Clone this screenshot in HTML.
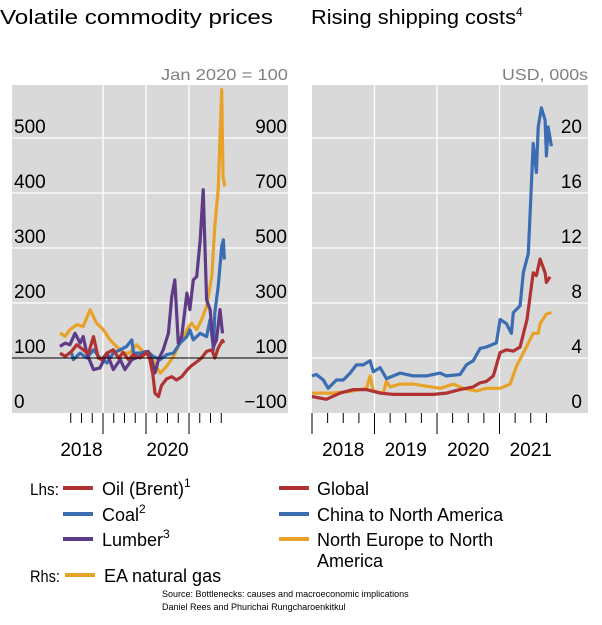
<!DOCTYPE html>
<html><head><meta charset="utf-8"><style>
body{margin:0;background:#fff;width:602px;height:620px;overflow:hidden;font-family:"Liberation Sans",sans-serif}
svg text{font-family:"Liberation Sans",sans-serif}
</style></head><body>
<svg id="c" width="602" height="620">
<text x="0" y="24" font-size="20" fill="#000" textLength="273" lengthAdjust="spacingAndGlyphs">Volatile commodity prices</text>
<text x="311" y="24" font-size="20" fill="#000"><tspan textLength="205" lengthAdjust="spacingAndGlyphs">Rising shipping costs</tspan><tspan font-size="12" dy="-8">4</tspan></text>
<text x="288" y="80" font-size="16" fill="#7f7f7f" text-anchor="end" textLength="127" lengthAdjust="spacingAndGlyphs">Jan 2020 = 100</text>
<text x="588" y="80" font-size="16" fill="#7f7f7f" text-anchor="end" textLength="86" lengthAdjust="spacingAndGlyphs">USD, 000s</text>
<rect x="12" y="85" width="276" height="328" fill="#d9d9d9"/>
<rect x="312" y="85" width="276" height="328" fill="#d9d9d9"/>
<g id="L"></g><g id="R"></g>
<g font-size="18">
<text x="30" y="495" font-size="17" textLength="29" lengthAdjust="spacingAndGlyphs">Lhs:</text>
<rect x="63" y="486" width="30" height="4" fill="#b03232"/>
<text x="102" y="495">Oil (Brent)<tspan font-size="12" dy="-8">1</tspan></text>
<rect x="63" y="512" width="30" height="4" fill="#3b6db2"/>
<text x="102" y="521">Coal<tspan font-size="12" dy="-8">2</tspan></text>
<rect x="63" y="537" width="30" height="4" fill="#5e3a87"/>
<text x="102" y="546">Lumber<tspan font-size="12" dy="-8">3</tspan></text>
<text x="30" y="582" font-size="17" textLength="30" lengthAdjust="spacingAndGlyphs">Rhs:</text>
<rect x="65" y="573" width="30" height="4" fill="#e9a228"/>
<text x="104" y="582">EA natural gas</text>
<rect x="279" y="486" width="30" height="4" fill="#b03232"/>
<text x="317" y="495">Global</text>
<rect x="279" y="512" width="30" height="4" fill="#3b6db2"/>
<text x="317" y="521">China to North America</text>
<rect x="279" y="537" width="30" height="4" fill="#e9a228"/>
<text x="317" y="546">North Europe to North</text>
<text x="317" y="567">America</text>
</g>
<text x="162" y="597" font-size="9">Source: Bottlenecks: causes and macroeconomic implications</text>
<text x="162" y="610" font-size="9">Daniel Rees and Phurichai Rungcharoenkitkul</text>
</svg>
<script>
// Left panel data (decimal years; Lhs values index, Rhs gas index)
const oilT=[2018.00,2018.12,2018.27,2018.39,2018.54,2018.66,2018.78,2018.89,2018.97,2019.09,2019.24,2019.36,2019.47,2019.59,2019.71,2019.86,2020.02,2020.09,2020.16,2020.21,2020.29,2020.36,2020.48,2020.60,2020.71,2020.83,2020.95,2021.06,2021.18,2021.29,2021.41,2021.53,2021.60,2021.68,2021.78,2021.81];
const oilV=[109,103,112,124,115,108,139,100,97,109,115,100,110,97,106,100,110,97,70,36,30,50,62,66,60,66,78,86,93,100,112,115,100,118,132,127];
const coalT=[2018.27,2018.31,2018.47,2018.62,2018.78,2018.93,2019.09,2019.24,2019.40,2019.55,2019.67,2019.71,2019.86,2020.02,2020.17,2020.33,2020.48,2020.64,2020.79,2020.95,2021.02,2021.10,2021.26,2021.41,2021.49,2021.57,2021.60,2021.68,2021.72,2021.76,2021.80,2021.82];
const coalV=[109,97,109,100,115,100,91,109,115,121,133,109,109,112,103,97,106,109,127,139,151,133,145,139,170,115,182,230,267,303,315,279];
const lumT=[2018.00,2018.12,2018.23,2018.35,2018.47,2018.54,2018.62,2018.78,2018.93,2019.09,2019.24,2019.40,2019.51,2019.67,2019.86,2020.05,2020.13,2020.21,2020.29,2020.40,2020.52,2020.60,2020.67,2020.75,2020.83,2020.95,2021.02,2021.10,2021.18,2021.26,2021.33,2021.41,2021.49,2021.57,2021.64,2021.72,2021.78];
const lumV=[121,127,124,145,127,139,109,79,82,109,79,97,79,97,103,112,97,73,97,115,145,212,242,127,139,218,188,242,248,315,406,206,188,121,133,188,145];
const gasT=[2018.00,2018.12,2018.23,2018.39,2018.54,2018.70,2018.85,2019.01,2019.16,2019.31,2019.47,2019.62,2019.78,2019.93,2020.09,2020.24,2020.33,2020.48,2020.64,2020.79,2020.95,2021.06,2021.18,2021.29,2021.41,2021.53,2021.60,2021.68,2021.72,2021.76,2021.79,2021.83];
const gasV=[191,179,203,221,215,276,227,203,167,142,118,118,148,124,118,70,45,70,106,155,203,227,203,239,288,397,579,712,900,1076,761,724];
// Right panel data (USD 000s)
const glT=[2018.00,2018.23,2018.45,2018.66,2018.87,2019.09,2019.30,2019.51,2019.73,2019.94,2020.15,2020.37,2020.58,2020.69,2020.79,2020.90,2021.01,2021.11,2021.22,2021.33,2021.44,2021.54,2021.59,2021.65,2021.73,2021.75,2021.81];
const glV=[1.2,1.0,1.45,1.7,1.7,1.45,1.35,1.35,1.35,1.35,1.45,1.7,1.9,2.2,2.3,2.7,4.4,4.6,4.5,4.8,6.8,10.2,10.0,11.2,10.2,9.5,9.9];
const chT=[2018.00,2018.07,2018.18,2018.26,2018.39,2018.50,2018.61,2018.71,2018.82,2018.93,2018.98,2019.09,2019.19,2019.41,2019.62,2019.83,2020.05,2020.15,2020.37,2020.47,2020.58,2020.69,2020.79,2020.95,2021.01,2021.11,2021.19,2021.22,2021.33,2021.38,2021.46,2021.49,2021.54,2021.59,2021.62,2021.67,2021.73,2021.75,2021.78,2021.83];
const chV=[2.7,2.8,2.4,1.8,2.4,2.4,2.9,3.5,3.5,3.8,3.0,3.3,2.5,2.9,2.7,2.7,2.9,2.7,2.8,3.5,3.8,4.7,4.8,5.1,6.8,6.5,5.8,7.3,7.8,10.2,11.6,14.5,19.6,17.5,20.8,22.2,21.3,18.7,20.8,19.4];
const euT=[2018.00,2018.34,2018.61,2018.87,2018.93,2018.98,2019.14,2019.19,2019.25,2019.41,2019.62,2019.83,2020.05,2020.26,2020.42,2020.63,2020.79,2021.01,2021.17,2021.27,2021.43,2021.54,2021.62,2021.65,2021.75,2021.83];
const euV=[1.45,1.45,1.57,1.8,2.7,1.6,1.45,2.3,1.9,2.1,2.1,1.95,1.8,2.1,1.8,1.6,1.8,1.8,2.1,3.4,4.8,5.8,5.8,6.5,7.2,7.3];
const lhsTicks=[0,100,200,300,400,500];
const rhsTicks=[-100,100,300,500,700,900];
const rTicks=[0,4,8,12,16,20];
const lYears=[2018,2019,2020,2021];
const lYearLabels=[2018,2020];
const rYears=[2018,2019,2020,2021];

const NS='http://www.w3.org/2000/svg';
function mk(g,tag,a){const e=document.createElementNS(NS,tag);for(const k in a)e.setAttribute(k,a[k]);g.appendChild(e);return e;}
const L=document.getElementById('L'),R=document.getElementById('R');
const lx=t=>60+(t-2018)*43;
const ly=v=>413-v*0.55;
const ly2=v=>413-(v+100)*0.275;
const rx=t=>312+(t-2018)*62.5;
const ry=v=>413-v*13.75;

function grid(g,x0,x1,ticks,yf,name){
  ticks.forEach(v=>{const y=yf(v);
    if(y>86&&y<412){const l=mk(g,'line',{x1:x0,x2:x1,y1:y,y2:y,stroke:'#fff','stroke-width':1.3});
      
      }
  });
}
function labels(g,ticks,yf,x,anchor,name){
  ticks.forEach(v=>{const t=mk(g,'text',{x:x,y:yf(v)-5,'font-size':19,'text-anchor':anchor});
    t.textContent=v<0?'\u2212'+(-v):v;
    
    });
}
grid(L,12,288,lhsTicks.filter(v=>v!==100),ly,'left-y');
lYears.slice(0,3).forEach(y=>{const l=mk(L,'line',{x1:lx(y+1),x2:lx(y+1),y1:85,y2:413,stroke:'#fff','stroke-width':1.3});
  
  });
grid(R,312,588,rTicks,ry,'right-y');
rYears.slice(0,3).forEach(y=>{const l=mk(R,'line',{x1:rx(y+1),x2:rx(y+1),y1:85,y2:413,stroke:'#fff','stroke-width':1.3});
  
  });
labels(L,lhsTicks,ly,14,'start','left-lhs');
labels(L,rhsTicks,ly2,287,'end','left-rhs');
labels(R,rTicks,ry,582,'end','right-y');
function xticks(g,years,xf,name,labs,x0){
  years.forEach(y=>{for(let q=0;q<4;q++){const x=xf(y+q/4);if(x<x0-1)continue;
    const l=mk(g,'line',{x1:x,x2:x,y1:413,y2:q===0?434:423,stroke:'#000','stroke-width':1});
    
    }});
  labs.forEach(y=>{const t=mk(g,'text',{x:xf(y+0.5),y:456,'font-size':19,'text-anchor':'middle'});t.textContent=y;
    
    });
}
xticks(L,[2018,2019,2020,2021],lx,'left-x',lYearLabels,70);
xticks(R,rYears,rx,'right-x',rYears,312);
function series(g,T,V,xf,yf,col,name){
  const p=mk(g,'path',{d:T.map((t,i)=>(i?'L':'M')+xf(t).toFixed(1)+','+yf(V[i]).toFixed(1)).join(''),fill:'none',stroke:col,'stroke-width':3.2,'stroke-linejoin':'round'});
  
  
}
const C={red:'#b03232',blue:'#3b6db2',pur:'#5e3a87',org:'#e9a228'};
series(L,gasT,gasV,lx,ly2,C.org,'gas-line');
series(L,coalT,coalV,lx,ly,C.blue,'coal-line');
series(L,lumT,lumV,lx,ly,C.pur,'lumber-line');
series(L,oilT,oilV,lx,ly,C.red,'oil-line');
const z=mk(L,'line',{x1:12,x2:288,y1:ly(100),y2:ly(100),stroke:'#000','stroke-width':1});


series(R,euT,euV,rx,ry,C.org,'europe-na-line');
series(R,glT,glV,rx,ry,C.red,'global-line');
series(R,chT,chV,rx,ry,C.blue,'china-na-line');
</script>
</body></html>
